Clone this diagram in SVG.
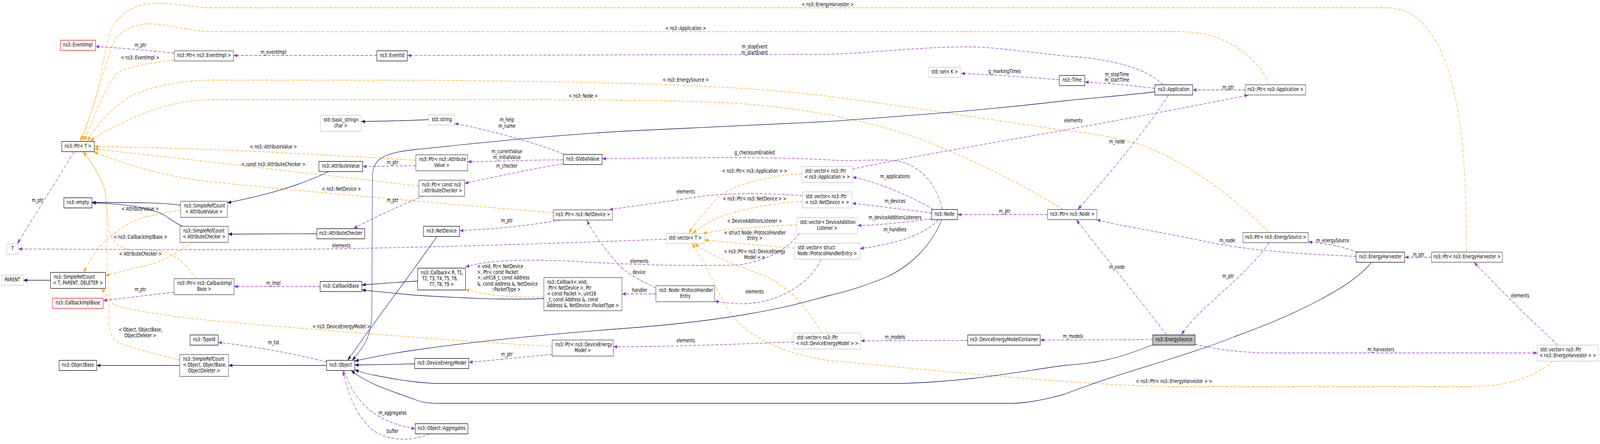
<svg xmlns="http://www.w3.org/2000/svg" width="5413" height="1136" viewBox="0 0 5413 1136" preserveAspectRatio="none">
<style>
:root{width:100vw;height:100vh}
text{font-family:"DejaVu Sans","Liberation Sans",sans-serif;font-size:13.33px;fill:#000}
.c{text-anchor:middle}
.n rect{fill:#fff;stroke:#000;stroke-width:1.3}
.n.t rect{stroke:#404040}
.n.g rect{stroke:#bfbfbf}
.n.r rect{stroke:#ff0000}
.n.f rect{fill:#bfbfbf}
.inh{fill:none;stroke:#191970;stroke-width:1.3}
.use{fill:none;stroke:#9a32cd;stroke-width:1.3;stroke-dasharray:10,5}
.tpl{fill:none;stroke:#ffa500;stroke-width:1.3;stroke-dasharray:10,5}
.inh{marker-end:url(#ai)}
.use{marker-end:url(#au)}
.tpl{marker-end:url(#at)}
</style>
<defs>
<marker id="ai" viewBox="0 0 13 9" refX="13" refY="4.5" markerWidth="13" markerHeight="9" markerUnits="userSpaceOnUse" orient="auto"><path d="M0,0L13,4.5L0,9z" fill="#191970"/></marker>
<marker id="au" viewBox="0 0 13 9" refX="13" refY="4.5" markerWidth="13" markerHeight="9" markerUnits="userSpaceOnUse" orient="auto"><path d="M0,0L13,4.5L0,9z" fill="#9a32cd"/></marker>
<marker id="at" viewBox="0 0 13 9" refX="13" refY="4.5" markerWidth="13" markerHeight="9" markerUnits="userSpaceOnUse" orient="auto"><path d="M0,0L13,4.5L0,9z" fill="#ffa500"/></marker>
</defs>
<rect x="0" y="0" width="5413" height="1136" fill="#fff"/>
<g id="connectors">
<path class="tpl" d="M4962,645 C4960,450 4950,300 4900,180 C4860,90 4800,20 4690,20 L700,20 C620,14 580,8 527,8 C460,8 405,35 378,72 C358,110 348,170 333,222 C318,275 292,320 271,361"/>
<path class="tpl" d="M4294,217 C4260,150 4150,81 3993,81 L700,81 C620,76 560,61 504,61 C455,61 412,78 390,100 C372,125 362,165 348,192 C330,240 300,300 279,361"/>
<path class="tpl" d="M590,153 C500,162 425,172 395,188 C355,225 315,300 286,361"/>
<path class="tpl" d="M4291,594 C4200,520 4000,400 3831,364 C3750,348 3680,340 3596,333 C3300,300 3000,265 2800,246 C2500,220 2200,210 1400,205 L700,205 C600,208 520,220 446,244 C380,275 330,315 296,361"/>
<path class="tpl" d="M3596,536 C3500,490 3320,415 3100,352 C2950,312 2700,268 2400,261 C2200,256 2000,255 1400,255 L700,255 C600,258 520,278 446,303 C390,322 340,340 305,361"/>
<path class="tpl" d="M1407,410 C1100,396 700,378 319,375"/>
<path class="tpl" d="M1417,476 C1100,448 700,413 319,381"/>
<path class="tpl" d="M1872,544 C1600,528 1000,488 700,464 C560,452 420,420 316,388"/>
<path class="tpl" d="M665,713 C640,690 610,662 580,652 C545,640 490,635 446,639 C420,638 395,628 380,612 C366,590 364,540 357,496 C350,465 320,425 281,388"/>
<path class="tpl" d="M1868,886 C1600,876 1000,840 700,819 C580,810 460,795 424,788 C400,784 385,781 376,772 C366,755 361,700 362,640 C363,580 362,530 357,496 C350,465 320,425 281,388"/>
<path class="tpl" d="M611,538 C570,542 520,550 491,555 C450,563 420,578 400,590 C370,605 345,625 330,637 C315,655 298,675 283,697"/>
<path class="tpl" d="M652,621 C630,630 600,645 560,662 C520,676 470,684 446,687 C420,693 390,699 357,705"/>
<path class="tpl" d="M608,921 C540,908 440,890 393,874 C375,862 366,840 368,815 C370,790 372,770 360,755 C354,748 350,744 343,738"/>
<path class="tpl" d="M1840,760 C1740,761 1640,756 1575,740"/>
<path class="tpl" d="M2713,444 C2600,450 2470,472 2420,512 C2385,542 2350,572 2330,597"/>
<path class="tpl" d="M2715,515 C2600,520 2470,542 2420,560 C2385,574 2360,586 2343,597"/>
<path class="tpl" d="M2696,575 C2600,578 2460,586 2378,597"/>
<path class="tpl" d="M2688,635 C2600,630 2480,621 2383,614"/>
<path class="tpl" d="M2781,852 C2740,800 2680,740 2600,710 C2500,680 2400,655 2350,623"/>
<path class="tpl" d="M5253,924 C5200,962 5100,989 4976,989 L3947,989 C3700,985 3400,966 2800,922 C2650,905 2530,862 2470,800 C2430,755 2410,700 2341,623"/>
<path class="use" d="M590,136 C500,129 400,122 323,119"/>
<path class="use" d="M1275,142 L790,142"/>
<path class="use" d="M3935,217 C3880,175 3760,150 3600,143 C3450,130 3350,120 3274,120 C3100,120 2950,136 2800,139 L1378,142"/>
<path class="use" d="M3907,226 C3800,216 3720,212 3670,210"/>
<path class="use" d="M4213,230 L4035,230"/>
<path class="use" d="M3584,204 C3450,196 3330,190 3251,188"/>
<path class="use" d="M3953,243 C3880,330 3760,440 3646,536"/>
<path class="use" d="M3544,549 L3239,549"/>
<path class="use" d="M3157,536 C3090,505 2980,468 2884,453"/>
<path class="use" d="M3152,545 C3050,535 2960,527 2883,520"/>
<path class="use" d="M3152,560 C3050,570 2970,576 2901,577"/>
<path class="use" d="M3175,562 C3130,600 3030,625 2909,636"/>
<path class="use" d="M3188,536 C3170,470 3110,420 3030,411 C2950,406 2900,414 2800,409 C2600,400 2300,404 2037,406"/>
<path class="use" d="M1906,394 C1800,362 1650,332 1538,316"/>
<path class="use" d="M1906,409 C1800,409 1680,413 1582,414"/>
<path class="use" d="M1906,419 C1800,432 1680,452 1572,469"/>
<path class="use" d="M1407,424 L1227,426"/>
<path class="use" d="M1433,501 C1350,528 1260,558 1196,585"/>
<path class="use" d="M1895,563 C1800,576 1680,586 1555,590"/>
<path class="use" d="M2219,737 C2160,715 2120,700 2090,675 C2050,640 2010,600 1985,563"/>
<path class="use" d="M2219,752 L2104,752"/>
<path class="use" d="M2778,663 C2740,730 2620,780 2500,777 C2460,776 2440,773 2418,771"/>
<path class="use" d="M2705,598 C2670,630 2620,662 2500,678 C2300,682 2100,676 1900,667 C1750,663 1620,668 1575,684"/>
<path class="use" d="M2715,501 C2600,494 2450,492 2350,505 C2200,522 2100,531 2061,537"/>
<path class="use" d="M2884,433 C3000,412 3400,360 3600,333 C3800,305 4050,270 4224,243"/>
<path class="use" d="M2254,612 C1800,625 1200,640 700,639 C400,639 200,637 62,637"/>
<path class="use" d="M251,388 L58,624"/>
<path class="use" d="M589,748 C500,755 420,763 349,769"/>
<path class="use" d="M1083,733 L792,733"/>
<path class="use" d="M1105,926 C1000,905 850,885 738,876"/>
<path class="use" d="M1164,948 C1200,1030 1270,1080 1405,1097"/>
<path class="use" d="M1453,1110 C1400,1128 1320,1132 1260,1100 C1200,1060 1175,1000 1160,948"/>
<path class="use" d="M1868,907 C1750,915 1650,923 1586,927"/>
<path class="use" d="M2685,875 C2500,880 2300,887 2075,887"/>
<path class="use" d="M3274,871 L2912,872"/>
<path class="use" d="M3900,869 L3519,870"/>
<path class="use" d="M3947,857 C3880,790 3700,620 3641,562"/>
<path class="use" d="M4294,621 C4200,720 4050,790 3997,857"/>
<path class="use" d="M4588,656 C4400,650 4200,640 4062,615 C3900,590 3800,580 3710,562"/>
<path class="use" d="M4592,645 C4540,630 4480,622 4426,619"/>
<path class="use" d="M4843,658 L4752,658"/>
<path class="use" d="M5271,883 C5150,800 5050,720 4987,671"/>
<path class="use" d="M4043,881 C4150,900 4250,903 4294,903 L5201,903"/>
<path class="inh" d="M611,525 C550,518 450,518 311,518"/>
<path class="inh" d="M618,579 C590,570 575,560 560,552 C520,535 450,522 311,519"/>
<path class="inh" d="M1115,438 C1000,480 880,502 769,519"/>
<path class="inh" d="M1072,598 L772,599"/>
<path class="inh" d="M171,717 L79,717"/>
<path class="inh" d="M608,935 L327,935"/>
<path class="inh" d="M1105,935 L773,935"/>
<path class="inh" d="M1451,306 C1400,308 1300,310 1222,311"/>
<path class="inh" d="M1478,605 C1420,670 1280,810 1176,922"/>
<path class="inh" d="M3907,235 C3800,245 3700,250 3600,258 C3300,285 3000,300 2800,311 C2500,322 2300,330 2100,336 C1800,350 1600,368 1400,383 C1290,392 1262,410 1260,450 L1258,800 C1257,860 1230,890 1191,922"/>
<path class="inh" d="M1413,719 C1350,722 1280,726 1224,729"/>
<path class="inh" d="M1840,764 C1700,768 1550,762 1400,755 C1330,750 1280,746 1224,742"/>
<path class="inh" d="M3186,562 C3150,630 3080,680 3004,707 C2920,735 2850,748 2800,757 C2650,790 2450,822 2100,841 C1800,858 1550,880 1400,896 C1320,905 1250,915 1200,924"/>
<path class="inh" d="M1403,931 L1200,934"/>
<path class="inh" d="M3900,882 C3780,920 3700,930 3600,935 C3450,950 3300,975 3055,981 L1489,981 C1420,981 1350,972 1280,962 C1250,958 1220,952 1200,946"/>
<path class="inh" d="M4640,671 C4580,730 4400,800 4178,861 C4000,915 3800,950 3600,1009 C3520,1025 3470,1032 3412,1032 L1489,1032 C1440,1032 1420,1028 1400,1021 C1320,1000 1240,980 1188,948"/>
<text class="c" x="475" y="120.5">m_ptr</text>
<text class="c" x="474" y="152.5">&lt; ns3::EventImpl &gt;</text>
<text class="c" x="925" y="138.5">m_eventImpl</text>
<text class="c" x="2800" y="16.5">&lt; ns3::EnergyHarvester &gt;</text>
<text class="c" x="2320" y="77.5">&lt; ns3::Application &gt;</text>
<text class="c" x="2553" y="124.5">m_stopEvent</text>
<text class="c" x="2553" y="139.5">m_startEvent</text>
<text class="c" x="2320" y="209">&lt; ns3::EnergySource &gt;</text>
<text class="c" x="1973" y="250.5">&lt; ns3::Node &gt;</text>
<text class="c" x="1715" y="311.5">m_help</text>
<text class="c" x="1715" y="327">m_name</text>
<text class="c" x="925" y="380">&lt; ns3::AttributeValue &gt;</text>
<text class="c" x="1715" y="392.5">m_currentValue</text>
<text class="c" x="1715" y="407">m_initialValue</text>
<text class="c" x="2553" y="395.5">g_checksumEnabled</text>
<text class="c" x="925" y="425">&lt; const ns3::AttributeChecker &gt;</text>
<text class="c" x="1328" y="420.5">m_ptr</text>
<text class="c" x="1715" y="429.5">m_checker</text>
<text class="c" x="2553" y="442.5">&lt; ns3::Ptr&lt; ns3::Application &gt; &gt;</text>
<text class="c" x="1155" y="488.5">&lt; ns3::NetDevice &gt;</text>
<text class="c" x="2320" y="495">elements</text>
<text class="c" x="2553" y="513">&lt; ns3::Ptr&lt; ns3::NetDevice &gt; &gt;</text>
<text class="c" x="1328" y="517.5">m_ptr</text>
<text class="c" x="127" y="517.5">m_ptr</text>
<text class="c" x="474" y="539.5">&lt; AttributeValue &gt;</text>
<text class="c" x="1715" y="569.5">m_ptr</text>
<text class="c" x="2553" y="570.5">&lt; DeviceAdditionListener &gt;</text>
<text class="c" x="2554" y="600">&lt; struct Node::ProtocolHandler</text>
<text class="c" x="2554" y="614.5">Entry &gt;</text>
<text class="c" x="475" y="611.5">&lt; ns3::CallbackImplBase &gt;</text>
<text class="c" x="1155" y="633.5">elements</text>
<text class="c" x="2553" y="648.5">&lt; ns3::Ptr&lt; ns3::DeviceEnergy</text>
<text class="c" x="2553" y="663">Model &gt; &gt;</text>
<text class="c" x="475" y="654.5">&lt; AttributeChecker &gt;</text>
<text class="c" x="2163" y="673.5">elements</text>
<text class="c" x="2162" y="701">device</text>
<text x="1615" y="686.5">&lt; void, Ptr&lt; NetDevice</text>
<text x="1615" y="701.5">&gt;, Ptr&lt; const Packet</text>
<text x="1615" y="715.5">&gt;, uint16_t, const Address</text>
<text x="1615" y="731">&amp;, const Address &amp;, NetDevice</text>
<text class="c" x="1712" y="745.5">::PacketType &gt;</text>
<text class="c" x="925" y="729.5">m_impl</text>
<text class="c" x="475" y="745.5">m_ptr</text>
<text class="c" x="2164" y="747.5">handler</text>
<text class="c" x="2553" y="751">elements</text>
<text class="c" x="1155" y="840.5">&lt; ns3::DeviceEnergyModel &gt;</text>
<text class="c" x="475" y="848.5">&lt; Object, ObjectBase,</text>
<text class="c" x="475" y="863">ObjectDeleter &gt;</text>
<text class="c" x="2320" y="876">elements</text>
<text class="c" x="925" y="881.5">m_tid</text>
<text class="c" x="1715" y="911.5">m_ptr</text>
<text class="c" x="1328" y="1061.5">m_aggregates</text>
<text class="c" x="1328" y="1108.5">buffer</text>
<text class="c" x="3399" y="187.5">g_markingTimes</text>
<text class="c" x="3779" y="195.5">m_stopTime</text>
<text class="c" x="3779" y="209.5">m_startTime</text>
<text class="c" x="4155" y="228">m_ptr</text>
<text class="c" x="3631" y="313">elements</text>
<text class="c" x="3779" y="367.5">m_node</text>
<text class="c" x="3028" y="456">m_applications</text>
<text class="c" x="3028" y="519.5">m_devices</text>
<text class="c" x="3399" y="545.5">m_ptr</text>
<text class="c" x="3028" y="561.5">m_deviceAdditionListeners</text>
<text class="c" x="3028" y="592">m_handlers</text>
<text class="c" x="4152" y="620.5">m_node</text>
<text class="c" x="4509" y="620.5">m_energySource</text>
<text class="c" x="4799" y="656.5">m_ptr</text>
<text class="c" x="3779" y="688.5">m_node</text>
<text class="c" x="4155" y="711.5">m_ptr</text>
<text class="c" x="5143" y="761.5">elements</text>
<text class="c" x="3028" y="867.5">m_models</text>
<text class="c" x="3630" y="865.5">m_models</text>
<text class="c" x="4672" y="899.5">m_harvesters</text>
<text class="c" x="3972" y="980.5">&lt; ns3::Ptr&lt; ns3::EnergyHarvester &gt; &gt;</text>
</g>
<g id="n_EventImpl" class="n r"><rect x="204" y="103" width="119" height="26"/><text class="c" x="263.5" y="119.5">ns3::EventImpl</text></g>
<g id="n_PtrT" class="n"><rect x="209" y="362" width="110" height="26"/><text class="c" x="264" y="378.5">ns3::Ptr&lt; T &gt;</text></g>
<g id="n_empty" class="n"><rect x="216" y="506" width="95" height="26"/><text class="c" x="263.5" y="522.5">ns3::empty</text></g>
<g id="n_PtrEventImpl" class="n t"><rect x="590" y="130" width="200" height="26"/><text class="c" x="690" y="146.5">ns3::Ptr&lt; ns3::EventImpl &gt;</text></g>
<g id="n_SRC_AV" class="n t"><rect x="611" y="515" width="158" height="41"/><text x="622" y="531.5">ns3::SimpleRefCount</text><text class="c" x="690" y="546.5">&lt; AttributeValue &gt;</text></g>
<g id="n_T" class="n g"><rect x="23" y="624" width="39" height="26"/><text class="c" x="42.5" y="640.5">T</text></g>
<g id="n_PARENT" class="n g"><rect x="5" y="704" width="74" height="26"/><text class="c" x="42" y="720.5">PARENT</text></g>
<g id="n_SRC_TPD" class="n"><rect x="171" y="697" width="186" height="41"/><text x="182" y="713.5">ns3::SimpleRefCount</text><text class="c" x="264" y="728.5">&lt; T, PARENT, DELETER &gt;</text></g>
<g id="n_CallbackImplBase" class="n r"><rect x="178" y="763" width="171" height="26"/><text class="c" x="263.5" y="779.5">ns3::CallbackImplBase</text></g>
<g id="n_ObjectBase" class="n"><rect x="200" y="922" width="127" height="26"/><text class="c" x="263.5" y="938.5">ns3::ObjectBase</text></g>
<g id="n_SRC_AC" class="n t"><rect x="609" y="579" width="163" height="41"/><text x="620" y="595.5">ns3::SimpleRefCount</text><text class="c" x="690.5" y="610.5">&lt; AttributeChecker &gt;</text></g>
<g id="n_PtrCIB" class="n t"><rect x="589" y="713" width="203" height="41"/><text x="600" y="729.5">ns3::Ptr&lt; ns3::CallbackImpl</text><text class="c" x="690.5" y="744.5">Base &gt;</text></g>
<g id="n_TypeId" class="n"><rect x="643" y="857" width="95" height="26"/><text class="c" x="690.5" y="873.5">ns3::TypeId</text></g>
<g id="n_SRC_O" class="n t"><rect x="608" y="907" width="165" height="56"/><text x="619" y="923.5">ns3::SimpleRefCount</text><text x="619" y="938.5">&lt; Object, ObjectBase,</text><text class="c" x="690.5" y="953.5">ObjectDeleter &gt;</text></g>
<g id="n_EventId" class="n"><rect x="1275" y="130" width="103" height="26"/><text class="c" x="1326.5" y="146.5">ns3::EventId</text></g>
<g id="n_basic_string" class="n g"><rect x="1084" y="295" width="138" height="41"/><text x="1095" y="311.5">std::basic_string&lt;</text><text class="c" x="1153" y="326.5">char &gt;</text></g>
<g id="n_AttributeValue" class="n"><rect x="1079" y="413" width="148" height="26"/><text class="c" x="1153" y="429.5">ns3::AttributeValue</text></g>
<g id="n_AttributeChecker" class="n"><rect x="1072" y="585" width="162" height="26"/><text class="c" x="1153" y="601.5">ns3::AttributeChecker</text></g>
<g id="n_CallbackBase" class="n"><rect x="1083" y="720" width="141" height="26"/><text class="c" x="1153.5" y="736.5">ns3::CallbackBase</text></g>
<g id="n_Object" class="n"><rect x="1105" y="922" width="95" height="26"/><text class="c" x="1152.5" y="938.5">ns3::Object</text></g>
<g id="n_string" class="n g"><rect x="1451" y="294" width="87" height="26"/><text class="c" x="1494.5" y="310.5">std::string</text></g>
<g id="n_PtrAV" class="n t"><rect x="1407" y="396" width="175" height="41"/><text x="1418" y="412.5">ns3::Ptr&lt; ns3::Attribute</text><text class="c" x="1494.5" y="427.5">Value &gt;</text></g>
<g id="n_PtrCAC" class="n t"><rect x="1417" y="461" width="155" height="41"/><text x="1428" y="477.5">ns3::Ptr&lt; const ns3</text><text class="c" x="1494.5" y="492.5">::AttributeChecker &gt;</text></g>
<g id="n_GlobalValue" class="n"><rect x="1906" y="395" width="131" height="26"/><text class="c" x="1971.5" y="411.5">ns3::GlobalValue</text></g>
<g id="n_PtrND" class="n t"><rect x="1872" y="537" width="200" height="26"/><text class="c" x="1972" y="553.5">ns3::Ptr&lt; ns3::NetDevice &gt;</text></g>
<g id="n_NetDevice" class="n"><rect x="1433" y="579" width="122" height="26"/><text class="c" x="1494" y="595.5">ns3::NetDevice</text></g>
<g id="n_CallbackR" class="n"><rect x="1413" y="686" width="162" height="56"/><text x="1424" y="702.5">ns3::Callback&lt; R, T1,</text><text x="1428" y="717.5">T2, T3, T4, T5, T6,</text><text class="c" x="1494" y="732.5">T7, T8, T9 &gt;</text></g>
<g id="n_CallbackVoid" class="n t"><rect x="1840" y="710" width="264" height="85"/><text x="1851" y="726">ns3::Callback&lt; void,</text><text x="1855" y="741">Ptr&lt; NetDevice &gt;, Ptr</text><text x="1851" y="756">&lt; const Packet &gt;, uint16</text><text x="1851" y="771">_t, const Address &amp;, const</text><text class="c" x="1972" y="786">Address &amp;, NetDevice::PacketType &gt;</text></g>
<g id="n_PtrDEM" class="n t"><rect x="1868" y="870" width="207" height="41"/><text x="1879" y="886.5">ns3::Ptr&lt; ns3::DeviceEnergy</text><text class="c" x="1971.5" y="901.5">Model &gt;</text></g>
<g id="n_DeviceEnergyModel" class="n"><rect x="1403" y="917" width="183" height="26"/><text class="c" x="1494.5" y="933.5">ns3::DeviceEnergyModel</text></g>
<g id="n_Aggregates" class="n"><rect x="1405" y="1084" width="178" height="26"/><text class="c" x="1494" y="1100.5">ns3::Object::Aggregates</text></g>
<g id="n_vecApp" class="n g"><rect x="2713" y="426" width="171" height="41"/><text x="2724" y="442.5">std::vector&lt; ns3::Ptr</text><text class="c" x="2798.5" y="457.5">&lt; ns3::Application &gt; &gt;</text></g>
<g id="n_vecND" class="n g"><rect x="2715" y="491" width="167" height="41"/><text x="2726" y="507.5">std::vector&lt; ns3::Ptr</text><text class="c" x="2798.5" y="522.5">&lt; ns3::NetDevice &gt; &gt;</text></g>
<g id="n_vecDAL" class="n g"><rect x="2696" y="557" width="205" height="41"/><text x="2707" y="573.5">std::vector&lt; DeviceAddition</text><text class="c" x="2798.5" y="588.5">Listener &gt;</text></g>
<g id="n_vecT" class="n g"><rect x="2254" y="597" width="129" height="26"/><text class="c" x="2318.5" y="613.5">std::vector&lt; T &gt;</text></g>
<g id="n_vecPHE" class="n g"><rect x="2688" y="622" width="221" height="41"/><text x="2699" y="638.5">std::vector&lt; struct</text><text class="c" x="2798.5" y="653.5">Node::ProtocolHandlerEntry &gt;</text></g>
<g id="n_PHE" class="n t"><rect x="2219" y="731" width="199" height="41"/><text x="2230" y="747.5">ns3::Node::ProtocolHandler</text><text class="c" x="2318.5" y="762.5">Entry</text></g>
<g id="n_vecDEM" class="n g"><rect x="2685" y="852" width="227" height="41"/><text x="2696" y="868.5">std::vector&lt; ns3::Ptr</text><text class="c" x="2798.5" y="883.5">&lt; ns3::DeviceEnergyModel &gt; &gt;</text></g>
<g id="n_set" class="n g"><rect x="3141" y="172" width="110" height="26"/><text class="c" x="3196" y="188.5">std::set&lt; K &gt;</text></g>
<g id="n_Time" class="n"><rect x="3584" y="193" width="86" height="26"/><text class="c" x="3627" y="209.5">ns3::Time</text></g>
<g id="n_Node" class="n"><rect x="3152" y="536" width="87" height="26"/><text class="c" x="3195.5" y="552.5">ns3::Node</text></g>
<g id="n_PtrNode" class="n t"><rect x="3544" y="536" width="167" height="26"/><text class="c" x="3627.5" y="552.5">ns3::Ptr&lt; ns3::Node &gt;</text></g>
<g id="n_DEMC" class="n"><rect x="3274" y="857" width="245" height="26"/><text class="c" x="3396.5" y="873.5">ns3::DeviceEnergyModelContainer</text></g>
<g id="n_Application" class="n"><rect x="3907" y="217" width="128" height="26"/><text class="c" x="3971" y="233.5">ns3::Application</text></g>
<g id="n_PtrApp" class="n t"><rect x="4213" y="217" width="204" height="26"/><text class="c" x="4315" y="233.5">ns3::Ptr&lt; ns3::Application &gt;</text></g>
<g id="n_EnergySource" class="n f"><rect x="3900" y="857" width="143" height="26"/><text class="c" x="3971.5" y="873.5">ns3::EnergySource</text></g>
<g id="n_PtrES" class="n t"><rect x="4205" y="595" width="221" height="26"/><text class="c" x="4315.5" y="611.5">ns3::Ptr&lt; ns3::EnergySource &gt;</text></g>
<g id="n_EnergyHarvester" class="n"><rect x="4588" y="645" width="164" height="26"/><text class="c" x="4670" y="661.5">ns3::EnergyHarvester</text></g>
<g id="n_PtrEH" class="n t"><rect x="4843" y="645" width="240" height="26"/><text class="c" x="4963" y="661.5">ns3::Ptr&lt; ns3::EnergyHarvester &gt;</text></g>
<g id="n_vecEH" class="n g"><rect x="5201" y="883" width="206" height="41"/><text x="5211" y="899.5">std::vector&lt; ns3::Ptr</text><text class="c" x="5304" y="914.5">&lt; ns3::EnergyHarvester &gt; &gt;</text></g>
</svg>
